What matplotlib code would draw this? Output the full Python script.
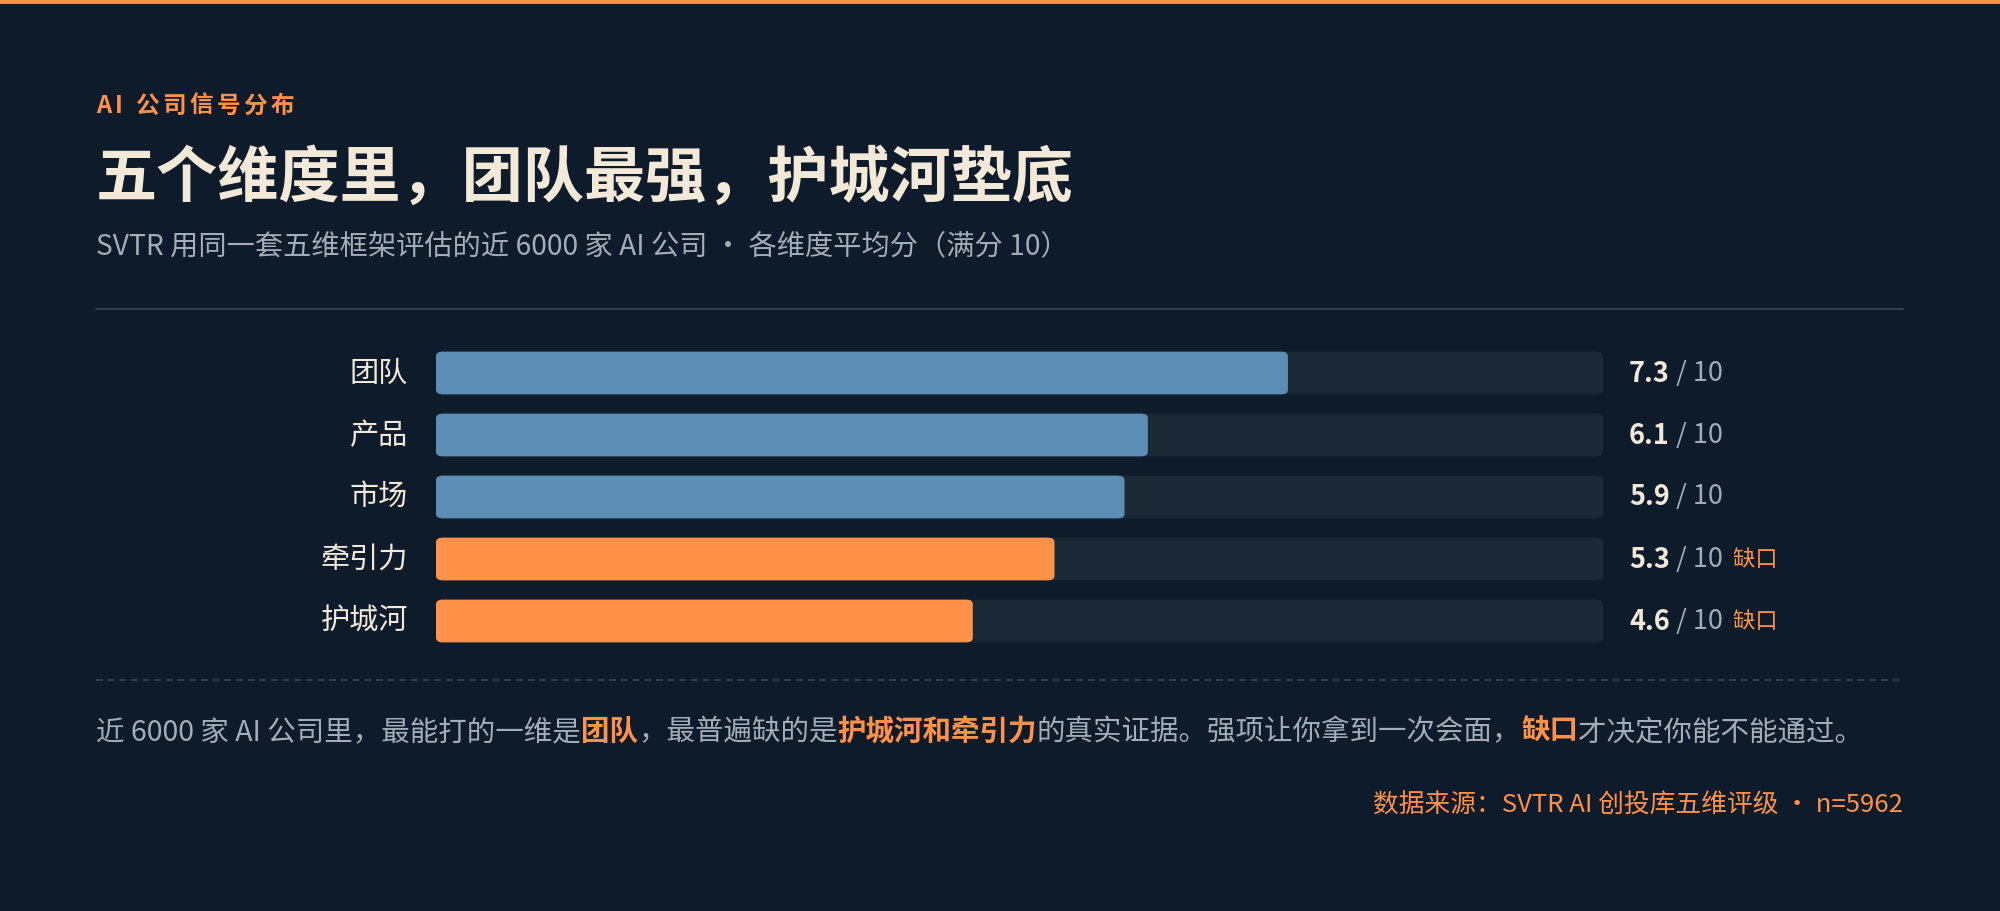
import matplotlib
matplotlib.use("Agg")
import matplotlib.pyplot as plt
from matplotlib.patches import FancyBboxPatch

plt.rcParams['font.family'] = ['Noto Sans CJK SC', 'DejaVu Sans']

categories = ["团队", "产品", "市场", "牵引力", "护城河"]
scores = [7.3, 6.1, 5.9, 5.3, 4.6]
gap_flags = [False, False, False, True, True]
max_score = 10

BG = "#0d1b2a"; TRACK = "#1b2937"; BLUE = "#5b8db5"; ORANGE = "#ff9148"
CREAM = "#f3e9d9"; GRAY = "#a3adb8"

W, H = 2000, 912
fig = plt.figure(figsize=(20, 9.12), dpi=100, facecolor=BG)
fig.canvas.draw()
R = fig.canvas.get_renderer()

def px(x, y):
    return x / W, 1 - y / H

def seq(x, y, parts, spacing=0):
    for t, c, s, w in parts:
        tt = fig.text(*px(x, y), t, color=c, fontsize=s, fontweight=w, va='center', ha='left')
        x += tt.get_window_extent(R).width + spacing

fig.add_artist(plt.Line2D([0, 1], [1 - 2 / H, 1 - 2 / H], color=ORANGE, lw=3.5))

# header with letter spacing: draw characters one by one
header = "AI 公司信号分布"
seq(96, 106, [(ch, ORANGE, 17, 'bold') for ch in header], spacing=3.5)
fig.text(*px(96, 179), "五个维度里，团队最强，护城河垫底", color=CREAM, fontsize=44, fontweight='bold', va='center')
fig.text(*px(96, 246), "SVTR 用同一套五维框架评估的近 6000 家 AI 公司 · 各维度平均分（满分 10）", color=GRAY, fontsize=20.3, va='center')
fig.add_artist(plt.Line2D([96 / W, 1903 / W], [1 - 310 / H] * 2, color="#3a4654", lw=1.2))
fig.add_artist(plt.Line2D([96 / W, 1903 / W], [1 - 681 / H] * 2, color="#3a4654", lw=1.2, ls=(0, (4, 3))))

ax = fig.add_axes([436 / W, 1 - 653 / H, (1603 - 436) / W, 310 / H])
ax.set_facecolor(BG)
ax.set_xlim(0, max_score); ax.set_ylim(len(categories) - 0.5, -0.5)
ax.axis('off')
bh = 0.69
for i, (c, v, g) in enumerate(zip(categories, scores, gap_flags)):
    ax.add_patch(FancyBboxPatch((0, i - bh / 2), max_score, bh, boxstyle="round,pad=0,rounding_size=0.06",
                                mutation_aspect=1.2, fc=TRACK, ec='none'))
    ax.add_patch(FancyBboxPatch((0, i - bh / 2), v, bh, boxstyle="round,pad=0,rounding_size=0.06",
                                mutation_aspect=1.2, fc=ORANGE if g else BLUE, ec='none'))
ycent = [374, 436, 497, 560, 622]
for c, v, g, y in zip(categories, scores, gap_flags, ycent):
    fig.text(*px(408, y), c, color=CREAM, fontsize=21, ha='right', va='center')
    parts = [(f"{v}", CREAM, 19.5, 'bold'), (" / 10", GRAY, 19.5, 'normal')]
    if g:
        parts.append(("  缺口", ORANGE, 16, 'normal'))
    seq(1629, y, parts)

seq(96, 732, [("近 6000 家 AI 公司里，最能打的一维是", GRAY, 20.5, 'normal'),
              ("团队", ORANGE, 20.5, 'bold'),
              ("，最普遍缺的是", GRAY, 20.5, 'normal'),
              ("护城河和牵引力", ORANGE, 20.5, 'bold'),
              ("的真实证据。强项让你拿到一次会面，", GRAY, 20.5, 'normal'),
              ("缺口", ORANGE, 20.5, 'bold'),
              ("才决定你能不能通过。", GRAY, 20.5, 'normal')])
fig.text(*px(1903, 806), "数据来源：SVTR AI 创投库五维评级 · n=5962", color=ORANGE, fontsize=18.5, ha='right', va='center')

fig.savefig("out.png", dpi=100, facecolor=BG)
